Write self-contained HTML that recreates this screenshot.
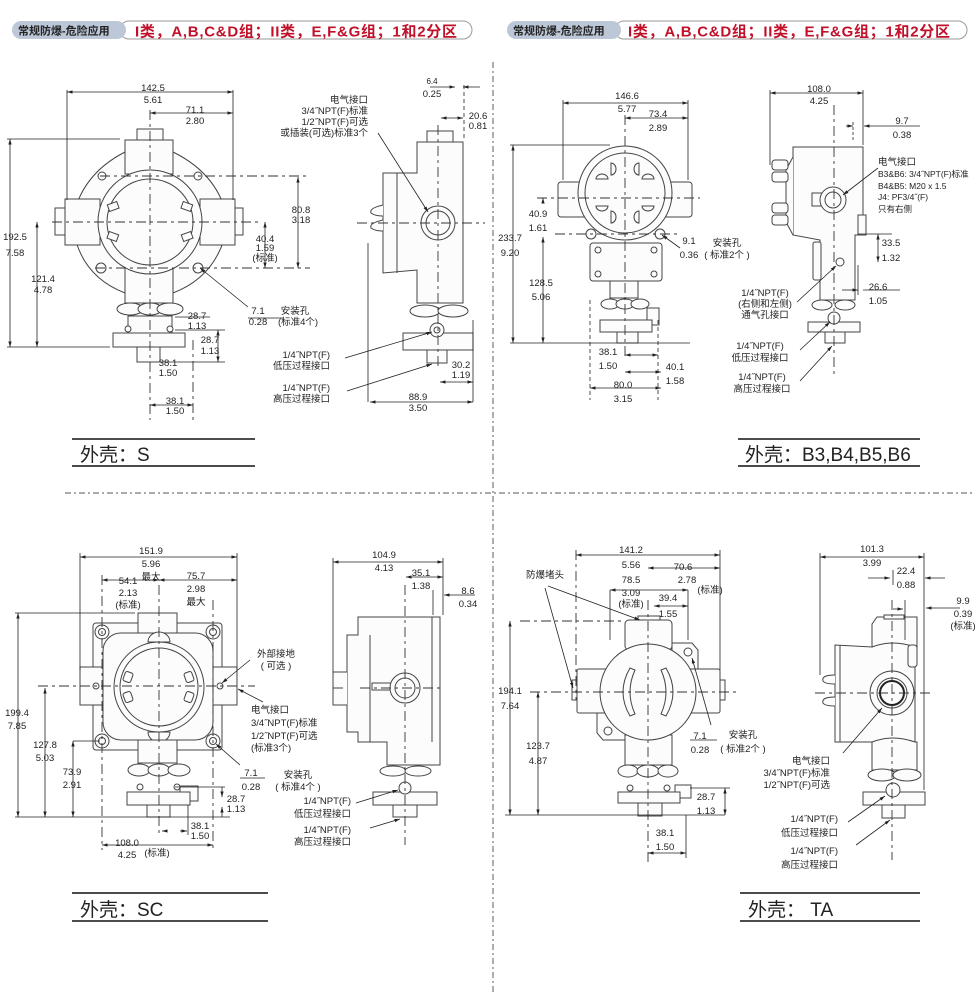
<!DOCTYPE html>
<html><head><meta charset="utf-8">
<style>
html,body{margin:0;padding:0;background:#fff;}
svg{display:block;}
text{font-family:"Liberation Sans","Noto Sans CJK SC",sans-serif;fill:#222;}
.t{font-size:9.5px;}
.b{fill:#fcfcfc;stroke:#444;stroke-width:1;}
.d{stroke:#222;stroke-width:.8;fill:none;}
.c{stroke:#333;stroke-width:.9;fill:none;stroke-dasharray:10 4 3 4;}
.lbl{font-size:19px;}
</style></head><body>
<svg width="980" height="1000" viewBox="0 0 980 1000" xmlns="http://www.w3.org/2000/svg">
<defs>
<marker id="a" viewBox="0 0 10 10" refX="10" refY="5" markerWidth="7" markerHeight="7" orient="auto-start-reverse"><path d="M0,2 L10,5 L0,8 z" fill="#222"/></marker>
</defs>

<!-- headers -->
<rect x="120" y="21" width="352" height="18" rx="9" fill="#fff" stroke="#999"/>
<rect x="12" y="21" width="114" height="18" rx="9" fill="#bcc7d8"/>
<text x="18" y="34.5" font-size="11" font-weight="bold">常规防爆-危险应用</text>
<text x="135" y="36.5" font-size="15" font-weight="bold" style="fill:#c0102a" textLength="322">I类，A,B,C&amp;D组；II类，E,F&amp;G组；1和2分区</text>
<rect x="615" y="21" width="352" height="18" rx="9" fill="#fff" stroke="#999"/>
<rect x="507" y="21" width="114" height="18" rx="9" fill="#bcc7d8"/>
<text x="513" y="34.5" font-size="11" font-weight="bold">常规防爆-危险应用</text>
<text x="628" y="36.5" font-size="15" font-weight="bold" style="fill:#c0102a" textLength="322">I类，A,B,C&amp;D组；II类，E,F&amp;G组；1和2分区</text>

<!-- dividers -->
<line x1="493" y1="62" x2="493" y2="995" stroke="#777" stroke-width="1.2" stroke-dasharray="6 3 2 3"/>
<line x1="65" y1="493" x2="975" y2="493" stroke="#777" stroke-width="1.2" stroke-dasharray="6 3 2 3"/>

<!-- titles -->
<g stroke="#111" stroke-width="1.6">
<line x1="72" y1="439" x2="255" y2="439"/><line x1="72" y1="466" x2="255" y2="466"/>
<line x1="738" y1="439" x2="920" y2="439"/><line x1="738" y1="466" x2="920" y2="466"/>
<line x1="72" y1="893" x2="268" y2="893"/><line x1="72" y1="921" x2="268" y2="921"/>
<line x1="740" y1="893" x2="920" y2="893"/><line x1="740" y1="921" x2="920" y2="921"/>
</g>
<text x="80" y="461" class="lbl">外壳：S</text>
<text x="745" y="461" class="lbl">外壳：B3,B4,B5,B6</text>
<text x="80" y="916" class="lbl">外壳：SC</text>
<text x="748" y="916" class="lbl">外壳： TA</text>

<!-- ================= Q1 S front ================= -->
<g>
<path class="b" d="M125,152 Q80,175 72,222 Q78,275 125,293 L173,293 Q220,275 228,222 Q220,175 173,152 Z"/>
<rect class="b" x="137" y="129" width="26" height="12"/>
<rect class="b" x="125" y="140" width="48" height="34"/>
<rect class="b" x="55" y="208" width="10" height="27"/>
<rect class="b" x="65" y="199" width="35" height="46"/>
<rect class="b" x="235" y="208" width="8" height="27"/>
<rect class="b" x="200" y="199" width="35" height="46"/>
<rect class="b" x="125" y="267" width="48" height="36"/>
<circle class="b" cx="150" cy="222" r="52"/>
<circle class="b" cx="150" cy="222" r="43"/>
<g class="b"><rect x="108" y="203" width="10" height="7" transform="rotate(-20 113 206)"/><rect x="182" y="203" width="10" height="7" transform="rotate(20 187 206)"/><rect x="108" y="233" width="10" height="7" transform="rotate(20 113 236)"/><rect x="182" y="233" width="10" height="7" transform="rotate(-20 187 236)"/></g>
<circle class="b" cx="102" cy="176" r="4"/><circle class="b" cx="198" cy="176" r="4"/>
<circle class="b" cx="101" cy="268" r="5"/><circle class="b" cx="198" cy="268" r="5"/>
<ellipse class="b" cx="130" cy="309" rx="13" ry="6"/><ellipse class="b" cx="150" cy="309" rx="12" ry="6"/><ellipse class="b" cx="170" cy="309" rx="13" ry="6"/>
<rect class="b" x="128" y="316" width="44" height="17"/>
<rect class="b" x="113" y="333" width="72" height="14"/>
<rect class="b" x="137" y="347" width="23" height="15"/>
<circle class="b" cx="128" cy="329" r="3"/><circle class="b" cx="170" cy="329" r="3"/>
<line class="c" x1="150" y1="110" x2="150" y2="420"/>
<line class="c" x1="52" y1="222" x2="260" y2="222"/>
<line class="c" x1="100" y1="176" x2="310" y2="176"/>
<line class="c" x1="95" y1="268" x2="310" y2="268"/>
<line class="c" x1="193" y1="340" x2="193" y2="420"/>
</g>
<g class="d">
<line x1="67" y1="90" x2="67" y2="200"/><line x1="233" y1="90" x2="233" y2="200"/>
<line x1="67" y1="92" x2="233" y2="92" marker-start="url(#a)" marker-end="url(#a)"/>
<line x1="150" y1="113" x2="233" y2="113" marker-start="url(#a)" marker-end="url(#a)"/>
<line x1="7" y1="139" x2="120" y2="139"/><line x1="7" y1="347" x2="110" y2="347"/>
<line x1="10" y1="139" x2="10" y2="347" marker-start="url(#a)" marker-end="url(#a)"/>
<line x1="37" y1="222" x2="37" y2="347" marker-start="url(#a)" marker-end="url(#a)"/>
<line x1="298" y1="177" x2="298" y2="268" marker-start="url(#a)" marker-end="url(#a)"/>
<line x1="265" y1="222" x2="265" y2="268" marker-start="url(#a)" marker-end="url(#a)"/>
<line x1="200" y1="268" x2="248" y2="307" marker-start="url(#a)"/>
<line x1="248" y1="318" x2="283" y2="318"/>
<line x1="175" y1="317" x2="210" y2="317"/><line x1="175" y1="330" x2="225" y2="330"/>
<line x1="218" y1="330" x2="218" y2="362" marker-start="url(#a)" marker-end="url(#a)"/>
<line x1="160" y1="362" x2="225" y2="362"/>
<line x1="150" y1="405" x2="193" y2="405" marker-start="url(#a)" marker-end="url(#a)"/>
</g>
<g class="t" text-anchor="middle">
<text x="153" y="91">142.5</text><text x="153" y="103">5.61</text>
<text x="195" y="113">71.1</text><text x="195" y="124">2.80</text>
<text x="15" y="240">192.5</text><text x="15" y="256">7.58</text>
<text x="43" y="282">121.4</text><text x="43" y="293">4.78</text>
<text x="301" y="213">80.8</text><text x="301" y="223">3.18</text>
<text x="265" y="242">40.4</text><text x="265" y="251">1.59</text><text x="265" y="261">(标准)</text>
<text x="258" y="314">7.1</text><text x="258" y="325">0.28</text>
<text x="295" y="314">安装孔</text><text x="298" y="325">(标准4个)</text>
<text x="197" y="319">28.7</text><text x="197" y="329">1.13</text>
<text x="210" y="343">28.7</text><text x="210" y="354">1.13</text>
<text x="168" y="366">38.1</text><text x="168" y="376">1.50</text>
<text x="175" y="404">38.1</text><text x="175" y="414">1.50</text>
</g>

<!-- Q1 side -->
<g>
<path class="b" d="M417,142 L463,142 L463,303 L417,303 L417,270 L383,273 L383,173 L417,173 Z"/>
<line x1="397" y1="173" x2="397" y2="273" stroke="#444"/>
<path class="b" d="M383,205 q-14,3 -12,8 q4,3 12,3 M383,220 q-14,3 -12,8 q4,3 12,3"/>
<rect class="b" x="427" y="131" width="26" height="11"/>
<circle class="b" cx="438" cy="223" r="17"/><circle class="b" cx="438" cy="223" r="12"/>
<ellipse class="b" cx="425" cy="311" rx="15" ry="6"/><ellipse class="b" cx="453" cy="311" rx="15" ry="6"/>
<rect class="b" x="403" y="333" width="70" height="17"/>
<rect class="b" x="427" y="350" width="20" height="13"/>
<circle class="b" cx="437" cy="330" r="7"/><circle cx="437" cy="330" r="3" fill="none" stroke="#444"/>
<line class="c" x1="357" y1="223" x2="485" y2="223"/>
<line class="c" x1="438" y1="125" x2="438" y2="370"/>
</g>
<g class="d">
<line x1="430" y1="87" x2="455" y2="87" marker-end="url(#a)"/><line x1="480" y1="87" x2="463" y2="87" marker-end="url(#a)"/>
<line x1="441" y1="118" x2="463" y2="118" marker-start="url(#a)" marker-end="url(#a)"/>
<line x1="464" y1="85" x2="464" y2="140" stroke-dasharray="4 3"/>
<line x1="378" y1="133" x2="428" y2="212" marker-end="url(#a)"/>
<line x1="345" y1="358" x2="432" y2="332" marker-end="url(#a)"/>
<line x1="347" y1="391" x2="432" y2="364" marker-end="url(#a)"/>
<line x1="368" y1="243" x2="368" y2="402"/><line x1="473" y1="320" x2="473" y2="402"/>
<line x1="370" y1="402" x2="473" y2="402" marker-start="url(#a)" marker-end="url(#a)"/>
<line x1="440" y1="382" x2="473" y2="382" marker-start="url(#a)" marker-end="url(#a)"/>
</g>
<g class="t">
<text x="432" y="84" text-anchor="middle" font-size="8">6.4</text><text x="432" y="97" text-anchor="middle">0.25</text>
<text x="478" y="119" text-anchor="middle">20.6</text><text x="478" y="129" text-anchor="middle">0.81</text>
<g text-anchor="end"><text x="368" y="103">电气接口</text><text x="368" y="114">3/4˝NPT(F)标准</text><text x="368" y="125">1/2˝NPT(F)可选</text><text x="368" y="136">或插装(可选)标准3个</text>
<text x="330" y="358">1/4˝NPT(F)</text><text x="330" y="369">低压过程接口</text>
<text x="330" y="391">1/4˝NPT(F)</text><text x="330" y="402">高压过程接口</text></g>
<text x="461" y="368" text-anchor="middle">30.2</text><text x="461" y="378" text-anchor="middle">1.19</text>
<text x="418" y="400" text-anchor="middle">88.9</text><text x="418" y="411" text-anchor="middle">3.50</text>
</g>

<!-- ================= Q2 B front ================= -->
<g>
<rect class="b" x="558" y="182" width="134" height="35" rx="3"/>
<rect class="b" x="590" y="243" width="72" height="38" rx="3"/>
<circle class="b" cx="625" cy="193" r="47"/>
<circle class="b" cx="625" cy="193" r="40"/>
<g class="b"><path d="M611,163 a5,6 0 0 1 0,12 z"/><path d="M639,163 a5,6 0 0 0 0,12 z"/><path d="M611,211 a5,6 0 0 1 0,12 z"/><path d="M639,211 a5,6 0 0 0 0,12 z"/><path d="M596,179 a6,5 0 0 1 12,0 z"/><path d="M642,179 a6,5 0 0 1 12,0 z"/><path d="M596,206 a6,5 0 0 0 12,0 z"/><path d="M642,206 a6,5 0 0 0 12,0 z"/></g>
<circle class="b" cx="591" cy="234" r="5"/><circle class="b" cx="660" cy="234" r="5"/>
<circle class="b" cx="598" cy="250" r="3"/><circle class="b" cx="654" cy="250" r="3"/><circle class="b" cx="598" cy="274" r="3"/><circle class="b" cx="654" cy="274" r="3"/>
<rect class="b" x="610" y="281" width="28" height="17"/>
<ellipse class="b" cx="610" cy="304" rx="9" ry="5"/><ellipse class="b" cx="625" cy="304" rx="9" ry="5"/><ellipse class="b" cx="640" cy="304" rx="9" ry="5"/>
<rect class="b" x="647" y="308" width="12" height="17"/>
<rect class="b" x="600" y="320" width="52" height="12"/>
<rect class="b" x="617" y="332" width="21" height="11"/>
<line class="c" x1="625" y1="115" x2="625" y2="360"/>
<line class="c" x1="537" y1="198" x2="700" y2="198"/>
<line class="c" x1="555" y1="234" x2="680" y2="234"/>
</g>
<g class="d">
<line x1="563" y1="100" x2="563" y2="180"/><line x1="688" y1="100" x2="688" y2="180"/>
<line x1="563" y1="103" x2="688" y2="103" marker-start="url(#a)" marker-end="url(#a)"/>
<line x1="625" y1="118" x2="688" y2="118" marker-start="url(#a)" marker-end="url(#a)"/>
<line x1="510" y1="145" x2="610" y2="145"/><line x1="510" y1="343" x2="690" y2="343"/>
<line x1="513" y1="145" x2="513" y2="343" marker-start="url(#a)" marker-end="url(#a)"/>
<line x1="543" y1="203" x2="543" y2="198" marker-end="url(#a)"/>
<line x1="543" y1="237" x2="543" y2="343" marker-start="url(#a)" marker-end="url(#a)"/>
<line x1="662" y1="235" x2="680" y2="248" marker-start="url(#a)"/>
<line x1="590" y1="300" x2="590" y2="400" stroke-dasharray="4 3"/><line x1="658" y1="320" x2="658" y2="400" stroke-dasharray="4 3"/>
<line x1="625" y1="355" x2="658" y2="355" marker-start="url(#a)" marker-end="url(#a)"/>
<line x1="625" y1="372" x2="661" y2="372" marker-start="url(#a)" marker-end="url(#a)"/>
<line x1="590" y1="388" x2="661" y2="388" marker-start="url(#a)" marker-end="url(#a)"/>
</g>
<g class="t" text-anchor="middle">
<text x="627" y="99">146.6</text><text x="627" y="112">5.77</text>
<text x="658" y="117">73.4</text><text x="658" y="131">2.89</text>
<text x="510" y="241">233.7</text><text x="510" y="256">9.20</text>
<text x="538" y="217">40.9</text><text x="538" y="231">1.61</text>
<text x="541" y="286">128.5</text><text x="541" y="300">5.06</text>
<text x="689" y="244">9.1</text><text x="689" y="258">0.36</text>
<text x="727" y="246">安装孔</text><text x="727" y="258">( 标准2个 )</text>
<text x="608" y="355">38.1</text><text x="608" y="369">1.50</text>
<text x="675" y="370">40.1</text><text x="675" y="384">1.58</text>
<text x="623" y="388">80.0</text><text x="623" y="402">3.15</text>
</g>
<!-- Q2 side -->
<g>
<path class="b" d="M793,147 L863,147 L863,235 L855,235 L855,300 L820,300 L820,240 L793,235 Z"/>
<path class="b" d="M793,157 L786,170 L786,222 L793,235"/>
<rect class="b" x="772" y="160" width="16" height="10" rx="3"/><rect class="b" x="772" y="172" width="16" height="10" rx="3"/><rect class="b" x="772" y="203" width="16" height="10" rx="3"/><rect class="b" x="772" y="215" width="16" height="10" rx="3"/>
<rect class="b" x="813" y="242" width="8" height="38" rx="2"/>
<rect class="b" x="858" y="215" width="8" height="20"/>
<rect class="b" x="812" y="193" width="10" height="13"/>
<circle class="b" cx="833" cy="200" r="13"/><circle class="b" cx="833" cy="200" r="8"/>
<circle class="b" cx="840" cy="262" r="4"/>
<ellipse class="b" cx="822" cy="305" rx="10" ry="5"/><ellipse class="b" cx="845" cy="305" rx="10" ry="5"/>
<rect class="b" x="808" y="322" width="52" height="10"/>
<circle class="b" cx="834" cy="318" r="6"/>
<rect class="b" x="825" y="332" width="20" height="11"/>
<line class="c" x1="834" y1="105" x2="834" y2="375"/>
</g>
<g class="d">
<line x1="770" y1="90" x2="770" y2="165"/><line x1="863" y1="90" x2="863" y2="145"/>
<line x1="770" y1="93" x2="863" y2="93" marker-start="url(#a)" marker-end="url(#a)"/>
<line x1="846" y1="126" x2="853" y2="126" marker-end="url(#a)"/><line x1="853" y1="122" x2="853" y2="140" stroke-dasharray="3 2"/>
<line x1="920" y1="126" x2="864" y2="126" marker-end="url(#a)"/>
<line x1="878" y1="168" x2="843" y2="195" marker-end="url(#a)"/>
<line x1="858" y1="234" x2="892" y2="234"/>
<line x1="878" y1="234" x2="878" y2="262" marker-start="url(#a)" marker-end="url(#a)"/>
<line x1="842" y1="290" x2="858" y2="290" marker-end="url(#a)"/><line x1="863" y1="290" x2="900" y2="290"/>
<line x1="858" y1="265" x2="858" y2="295"/>
<line x1="797" y1="302" x2="836" y2="266" marker-end="url(#a)"/>
<line x1="800" y1="350" x2="830" y2="322" marker-end="url(#a)"/>
<line x1="800" y1="381" x2="832" y2="346" marker-end="url(#a)"/>
</g>
<g class="t">
<text x="819" y="92" text-anchor="middle">108.0</text><text x="819" y="104" text-anchor="middle">4.25</text>
<text x="902" y="124" text-anchor="middle">9.7</text><text x="902" y="138" text-anchor="middle">0.38</text>
<text x="878" y="165">电气接口</text><text x="878" y="177" font-size="8.5">B3&amp;B6: 3/4˝NPT(F)标准</text><text x="878" y="189" font-size="8.5">B4&amp;B5: M20 x 1.5</text><text x="878" y="200" font-size="8.5">J4: PF3/4˝(F)</text><text x="878" y="212" font-size="8.5">只有右侧</text>
<text x="891" y="246" text-anchor="middle">33.5</text><text x="891" y="261" text-anchor="middle">1.32</text>
<text x="878" y="290" text-anchor="middle">26.6</text><text x="878" y="304" text-anchor="middle">1.05</text>
<g text-anchor="middle"><text x="765" y="296">1/4˝NPT(F)</text><text x="765" y="307">(右侧和左侧)</text><text x="765" y="318">通气孔接口</text>
<text x="760" y="349">1/4˝NPT(F)</text><text x="760" y="361">低压过程接口</text>
<text x="762" y="380">1/4˝NPT(F)</text><text x="762" y="392">高压过程接口</text></g>
</g>

<!-- ================= Q3 SC front ================= -->
<g>
<rect class="b" x="93" y="623" width="129" height="127" rx="3"/>
<rect class="b" x="80" y="667" width="23" height="38"/>
<rect class="b" x="213" y="667" width="24" height="38"/>
<rect class="b" x="138" y="613" width="39" height="20"/>
<rect class="b" x="103" y="633" width="110" height="107" rx="18"/>
<circle class="b" cx="159" cy="687" r="45"/><circle class="b" cx="159" cy="687" r="39"/>
<path class="b" d="M148,642 a11,10 0 0 1 22,0 z"/><path class="b" d="M148,732 a11,10 0 0 0 22,0 z"/>
<g class="b"><rect x="124" y="672" width="8" height="10" rx="2" transform="rotate(20 128 677)"/><rect x="124" y="692" width="8" height="10" rx="2" transform="rotate(-20 128 697)"/><rect x="185" y="672" width="8" height="10" rx="2" transform="rotate(-20 189 677)"/><rect x="185" y="692" width="8" height="10" rx="2" transform="rotate(20 189 697)"/></g>
<g class="b"><circle cx="102" cy="632" r="7"/><circle cx="102" cy="632" r="3.5"/><circle cx="213" cy="632" r="7"/><circle cx="213" cy="632" r="3.5"/><circle cx="102" cy="741" r="7"/><circle cx="102" cy="741" r="3.5"/><circle cx="213" cy="741" r="7"/><circle cx="213" cy="741" r="3.5"/></g>
<circle class="b" cx="96" cy="686" r="3"/><circle class="b" cx="220" cy="686" r="3"/>
<rect class="b" x="138" y="740" width="39" height="23"/>
<ellipse class="b" cx="139" cy="770" rx="11" ry="6"/><ellipse class="b" cx="159" cy="770" rx="11" ry="6"/><ellipse class="b" cx="179" cy="770" rx="11" ry="6"/>
<rect class="b" x="180" y="786" width="18" height="15"/>
<rect class="b" x="127" y="792" width="63" height="13"/>
<circle class="b" cx="140" cy="787" r="3"/><circle class="b" cx="177" cy="787" r="3"/>
<rect class="b" x="147" y="805" width="23" height="12"/>
<line class="c" x1="159" y1="585" x2="159" y2="835"/>
<line class="c" x1="38" y1="686" x2="255" y2="686"/>
<line class="c" x1="102" y1="575" x2="102" y2="850"/>
<line class="c" x1="213" y1="600" x2="213" y2="850"/>
</g>
<g class="d">
<line x1="80" y1="553" x2="80" y2="670"/><line x1="237" y1="553" x2="237" y2="670"/>
<line x1="80" y1="557" x2="237" y2="557" marker-start="url(#a)" marker-end="url(#a)"/>
<line x1="102" y1="580" x2="159" y2="580" marker-start="url(#a)" marker-end="url(#a)"/>
<line x1="159" y1="580" x2="237" y2="580" marker-start="url(#a)" marker-end="url(#a)"/>
<line x1="15" y1="613" x2="135" y2="613"/><line x1="15" y1="817" x2="230" y2="817"/>
<line x1="18" y1="613" x2="18" y2="817" marker-start="url(#a)" marker-end="url(#a)"/>
<line x1="45" y1="688" x2="45" y2="817" marker-start="url(#a)" marker-end="url(#a)"/>
<line x1="73" y1="741" x2="100" y2="741"/>
<line x1="73" y1="741" x2="73" y2="817" marker-start="url(#a)" marker-end="url(#a)"/>
<line x1="250" y1="660" x2="222" y2="683" marker-end="url(#a)"/>
<line x1="263" y1="702" x2="238" y2="689" marker-end="url(#a)"/>
<line x1="240" y1="765" x2="216" y2="744" marker-end="url(#a)"/>
<line x1="240" y1="778" x2="265" y2="778"/>
<line x1="175" y1="787" x2="225" y2="787"/>
<line x1="222" y1="787" x2="222" y2="797" marker-end="url(#a)"/><line x1="222" y1="817" x2="222" y2="807" marker-end="url(#a)"/>
<line x1="188" y1="805" x2="188" y2="835"/>
<line x1="165" y1="831" x2="162" y2="831" marker-end="url(#a)"/><line x1="180" y1="831" x2="187" y2="831" marker-end="url(#a)"/>
<line x1="102" y1="845" x2="213" y2="845" marker-start="url(#a)" marker-end="url(#a)"/>
</g>
<g class="t" text-anchor="middle">
<text x="151" y="554">151.9</text><text x="151" y="567">5.96</text><text x="151" y="580">最大</text>
<text x="128" y="584">54.1</text><text x="128" y="596">2.13</text><text x="128" y="608">(标准)</text>
<text x="196" y="579">75.7</text><text x="196" y="592">2.98</text><text x="196" y="605">最大</text>
<text x="17" y="716">199.4</text><text x="17" y="729">7.85</text>
<text x="45" y="748">127.8</text><text x="45" y="761">5.03</text>
<text x="72" y="775">73.9</text><text x="72" y="788">2.91</text>
<text x="276" y="657">外部接地</text><text x="276" y="669">( 可选 )</text>
<text x="251" y="776">7.1</text><text x="251" y="790">0.28</text>
<text x="298" y="778">安装孔</text><text x="298" y="790">( 标准4个 )</text>
<text x="236" y="802">28.7</text><text x="236" y="812">1.13</text>
<text x="200" y="829">38.1</text><text x="200" y="839">1.50</text>
<text x="127" y="846">108.0</text><text x="127" y="858">4.25</text><text x="157" y="856">(标准)</text>
</g>
<g class="t"><text x="251" y="713">电气接口</text><text x="251" y="726">3/4˝NPT(F)标准</text><text x="251" y="739">1/2˝NPT(F)可选</text><text x="251" y="751">(标准3个)</text></g>
<!-- Q3 side -->
<g>
<path class="b" d="M358,635 L358,617 L440,617 L440,765 L387,765 L387,742 L358,742 L358,732 L347,732 L347,635 Z"/>
<line x1="370" y1="635" x2="370" y2="742" stroke="#444"/><line x1="432" y1="617" x2="432" y2="742" stroke="#444"/>
<path class="b" d="M347,672 L333,672 L333,705 L347,705"/>
<line x1="333" y1="688" x2="343" y2="688" stroke="#444"/>
<rect class="b" x="372" y="683" width="22" height="7"/>
<circle class="b" cx="405" cy="688" r="15"/><circle class="b" cx="405" cy="688" r="10"/>
<ellipse class="b" cx="393" cy="771" rx="13" ry="5"/><ellipse class="b" cx="418" cy="771" rx="13" ry="5"/>
<rect class="b" x="373" y="792" width="64" height="13"/>
<circle class="b" cx="405" cy="788" r="6"/>
<rect class="b" x="393" y="805" width="24" height="12"/>
<line class="c" x1="405" y1="585" x2="405" y2="845"/>
<line class="c" x1="360" y1="688" x2="440" y2="688"/>
</g>
<g class="d">
<line x1="333" y1="558" x2="333" y2="672"/><line x1="443" y1="558" x2="443" y2="615"/>
<line x1="333" y1="562" x2="443" y2="562" marker-start="url(#a)" marker-end="url(#a)"/>
<line x1="406" y1="577" x2="443" y2="577" marker-start="url(#a)" marker-end="url(#a)"/>
<line x1="475" y1="595" x2="444" y2="595" marker-end="url(#a)"/>
<line x1="433" y1="590" x2="433" y2="615"/>
<line x1="356" y1="803" x2="398" y2="790" marker-end="url(#a)"/>
<line x1="370" y1="828" x2="400" y2="819" marker-end="url(#a)"/>
</g>
<g class="t">
<text x="384" y="558" text-anchor="middle">104.9</text><text x="384" y="571" text-anchor="middle">4.13</text>
<text x="421" y="576" text-anchor="middle">35.1</text><text x="421" y="589" text-anchor="middle">1.38</text>
<text x="468" y="594" text-anchor="middle">8.6</text><text x="468" y="607" text-anchor="middle">0.34</text>
<g text-anchor="end"><text x="351" y="804">1/4˝NPT(F)</text><text x="351" y="817">低压过程接口</text><text x="351" y="833">1/4˝NPT(F)</text><text x="351" y="845">高压过程接口</text></g>
</g>

<!-- ================= Q4 TA front ================= -->
<g>
<path class="b" d="M672,648 L672,643 L692,643 L698,650 L698,669 L672,669 Z"/>
<path class="b" d="M625,713 L625,740 L603,740 L597,733 L597,713 Z"/>
<rect class="b" x="577" y="669" width="143" height="44" rx="2"/>
<rect class="b" x="572" y="680" width="5" height="20"/><rect class="b" x="720" y="680" width="5" height="20"/>
<rect class="b" x="638" y="616" width="22" height="5"/>
<rect class="b" x="625" y="620" width="47" height="30" rx="4"/>
<rect class="b" x="625" y="735" width="47" height="30"/>
<circle class="b" cx="648" cy="692" r="48"/>
<path class="b" d="M630,668 q-14,24 0,48 l5,-2 q-10,-22 0,-44 z"/>
<path class="b" d="M666,668 q14,24 0,48 l-5,-2 q10,-22 0,-44 z"/>
<circle class="b" cx="688" cy="652" r="4"/><circle class="b" cx="608" cy="731" r="4"/>
<ellipse class="b" cx="628" cy="771" rx="10" ry="6"/><ellipse class="b" cx="648" cy="771" rx="11" ry="6"/><ellipse class="b" cx="668" cy="771" rx="10" ry="6"/>
<rect class="b" x="675" y="785" width="16" height="13"/>
<rect class="b" x="618" y="792" width="62" height="11"/>
<circle class="b" cx="630" cy="788" r="3"/><circle class="b" cx="667" cy="788" r="3"/>
<rect class="b" x="638" y="803" width="24" height="13"/>
<line class="c" x1="648" y1="600" x2="648" y2="863"/>
<line class="c" x1="530" y1="692" x2="738" y2="692"/>
<line class="c" x1="520" y1="621" x2="625" y2="621"/>
<line class="c" x1="576" y1="550" x2="576" y2="700"/>
</g>
<g class="d">
<line x1="720" y1="550" x2="720" y2="670"/>
<line x1="576" y1="555" x2="720" y2="555" marker-start="url(#a)" marker-end="url(#a)"/>
<line x1="648" y1="568" x2="720" y2="568" marker-start="url(#a)" marker-end="url(#a)"/>
<line x1="610" y1="590" x2="688" y2="590" marker-start="url(#a)" marker-end="url(#a)"/>
<line x1="610" y1="590" x2="610" y2="640"/><line x1="688" y1="590" x2="688" y2="640"/>
<line x1="654" y1="606" x2="688" y2="606" marker-start="url(#a)" marker-end="url(#a)"/>
<line x1="548" y1="586" x2="640" y2="620" marker-end="url(#a)"/>
<line x1="545" y1="588" x2="573" y2="688" marker-end="url(#a)"/>
<line x1="711" y1="725" x2="692" y2="658" marker-end="url(#a)"/>
<line x1="690" y1="740" x2="717" y2="740"/>
<line x1="505" y1="815" x2="725" y2="815"/>
<line x1="510" y1="621" x2="510" y2="815" marker-start="url(#a)" marker-end="url(#a)"/>
<line x1="538" y1="692" x2="538" y2="815" marker-start="url(#a)" marker-end="url(#a)"/>
<line x1="690" y1="788" x2="730" y2="788"/>
<line x1="725" y1="788" x2="725" y2="815" marker-start="url(#a)" marker-end="url(#a)"/>
<line x1="686" y1="815" x2="686" y2="858"/>
<line x1="648" y1="853" x2="686" y2="853" marker-start="url(#a)" marker-end="url(#a)"/>
</g>
<g class="t" text-anchor="middle">
<text x="631" y="553">141.2</text><text x="631" y="568">5.56</text>
<text x="683" y="570">70.6</text><text x="687" y="583">2.78</text><text x="710" y="593">(标准)</text>
<text x="631" y="583">78.5</text><text x="631" y="596">3.09</text><text x="631" y="607">(标准)</text>
<text x="668" y="601">39.4</text><text x="668" y="617">1.55</text>
<text x="526" y="578" text-anchor="start">防爆堵头</text>
<text x="510" y="694">194.1</text><text x="510" y="709">7.64</text>
<text x="538" y="749">123.7</text><text x="538" y="764">4.87</text>
<text x="700" y="739">7.1</text><text x="700" y="753">0.28</text>
<text x="743" y="738">安装孔</text><text x="743" y="752">( 标准2个 )</text>
<text x="706" y="800">28.7</text><text x="706" y="814">1.13</text>
<text x="665" y="836">38.1</text><text x="665" y="850">1.50</text>
</g>
<!-- Q4 side -->
<g>
<path class="b" d="M872,647 L872,624 L877,617 L917,617 L917,648 L915,648 L915,742 L917,742 L917,770 L872,770 L872,742 L835,742 L835,645 Z"/>
<line x1="840" y1="645" x2="840" y2="742" stroke="#444"/>
<path class="b" d="M872,647 q20,-8 43,0 M872,742 q20,-8 43,0"/>
<path class="b" d="M835,675 q-14,0 -12,6 q2,3 12,3 M835,697 q-14,0 -12,6 q2,3 12,3"/>
<rect class="b" x="884" y="615" width="20" height="4"/>
<rect class="b" x="908" y="645" width="9" height="22" rx="3"/>
<circle class="b" cx="892" cy="693" r="22"/><circle class="b" cx="892" cy="693" r="15"/><circle cx="892" cy="693" r="12" fill="none" stroke="#222" stroke-width="2"/>
<ellipse class="b" cx="882" cy="775" rx="14" ry="6"/><ellipse class="b" cx="907" cy="775" rx="14" ry="6"/>
<rect class="b" x="863" y="792" width="62" height="13"/>
<circle class="b" cx="893" cy="790" r="7"/>
<rect class="b" x="882" y="805" width="23" height="13"/>
<line class="c" x1="892" y1="600" x2="892" y2="860"/>
<line class="c" x1="815" y1="693" x2="932" y2="693"/>
</g>
<g class="d">
<line x1="820" y1="553" x2="820" y2="675"/><line x1="924" y1="553" x2="924" y2="790"/>
<line x1="820" y1="557" x2="924" y2="557" marker-start="url(#a)" marker-end="url(#a)"/>
<line x1="868" y1="578" x2="890" y2="578" marker-end="url(#a)"/><line x1="945" y1="578" x2="925" y2="578" marker-end="url(#a)"/>
<line x1="893" y1="570" x2="893" y2="585"/>
<line x1="893" y1="609" x2="903" y2="609" marker-end="url(#a)"/><line x1="905" y1="600" x2="905" y2="640"/>
<line x1="960" y1="608" x2="926" y2="608" marker-end="url(#a)"/>
<line x1="843" y1="753" x2="882" y2="708" marker-end="url(#a)"/>
<line x1="848" y1="822" x2="885" y2="796" marker-end="url(#a)"/>
<line x1="856" y1="845" x2="890" y2="820" marker-end="url(#a)"/>
</g>
<g class="t">
<g text-anchor="middle">
<text x="872" y="552">101.3</text><text x="872" y="566">3.99</text>
<text x="906" y="574">22.4</text><text x="906" y="588">0.88</text>
<text x="963" y="604">9.9</text><text x="963" y="617">0.39</text><text x="963" y="629">(标准)</text>
</g>
<g text-anchor="end">
<text x="830" y="764">电气接口</text><text x="830" y="776">3/4˝NPT(F)标准</text><text x="830" y="788">1/2˝NPT(F)可选</text>
<text x="838" y="822">1/4˝NPT(F)</text><text x="838" y="836">低压过程接口</text>
<text x="838" y="854">1/4˝NPT(F)</text><text x="838" y="868">高压过程接口</text>
</g>
</g>
</svg>
</body></html>
